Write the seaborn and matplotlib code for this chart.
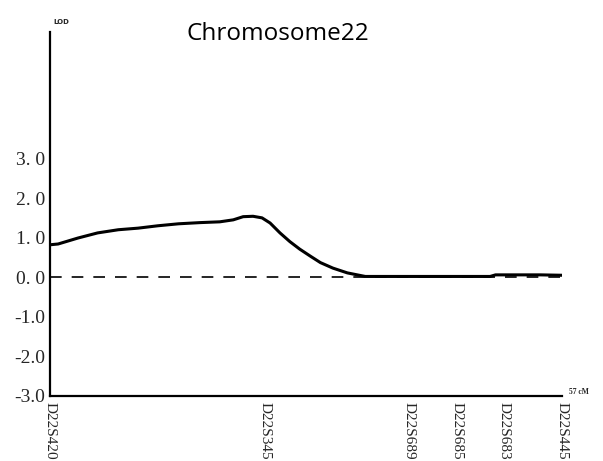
import matplotlib
matplotlib.use("Agg")
import matplotlib.pyplot as plt
import seaborn as sns
import pandas as pd

# LOD score along chromosome 22 (position in cM)
pos_cm = [0.0, 0.9, 3.1, 5.3, 7.6, 9.8, 12.0, 14.3, 16.7, 18.9, 20.4, 21.5,
          22.6, 23.6, 24.5, 25.6, 26.7, 27.8, 29.0, 30.1, 31.5, 33.1, 34.2,
          35.1, 49.0, 49.6, 54.6, 57.0]
lod = [0.82, 0.84, 0.99, 1.12, 1.20, 1.24, 1.30, 1.35, 1.38, 1.40, 1.45, 1.53,
       1.54, 1.50, 1.37, 1.12, 0.90, 0.71, 0.53, 0.37, 0.23, 0.11, 0.06,
       0.02, 0.02, 0.06, 0.06, 0.05]

# Marker positions along the map
marker_names = ["D22S420", "D22S345", "D22S689", "D22S685", "D22S683", "D22S445"]
marker_cm = [0.0, 23.9, 40.0, 45.3, 50.6, 57.0]

ytick_vals = [3.0, 2.0, 1.0, 0.0, -1.0, -2.0, -3.0]
ytick_labels = ["3. 0", "2. 0", "1. 0", "0. 0", "-1.0", "-2.0", "-3.0"]

map_length = 57.0

sns.set_style("white")
plt.rcParams["font.family"] = ["Liberation Serif", "DejaVu Serif"]

fig = plt.figure(figsize=(6.03, 4.61), dpi=100)
ax = fig.add_axes([0.083, 0.141, 0.849, 0.790])

df = pd.DataFrame({"cM": pos_cm, "LOD": lod})
sns.lineplot(data=df, x="cM", y="LOD", ax=ax, color="black", linewidth=2.2)
ax.axhline(0.0, color="black", linewidth=1.2, dashes=(7, 6), zorder=1)

ax.set_xlim(0, map_length)
ax.set_ylim(-3.0, 6.2)

ax.set_yticks(ytick_vals)
ax.set_yticklabels(ytick_labels, fontsize=14)
ax.set_xticks(marker_cm)
ax.set_xticklabels(marker_names, rotation=-90, fontsize=11)
ax.tick_params(axis="both", direction="inout", length=5, width=1.0,
               color="black", pad=1)
ax.tick_params(axis="x", pad=2)

ax.set_xlabel("")
ax.set_ylabel("")

for side in ["top", "right"]:
    ax.spines[side].set_visible(False)
for side in ["left", "bottom"]:
    ax.spines[side].set_color("black")
    ax.spines[side].set_linewidth(1.6)

ax.text(0.006, 1.02, "LOD", transform=ax.transAxes, fontsize=5,
        fontweight="bold", family="DejaVu Sans", ha="left", va="bottom")
ax.text(1.013, 0.0, "57 cM", transform=ax.transAxes, fontsize=5.5,
        fontweight="bold", ha="left", va="bottom")
ax.text(0.445, 0.995, "Chromosome22", transform=ax.transAxes, fontsize=17.5,
        family="Open Sans", color="black", ha="center", va="center")

fig.savefig("out.png", dpi=100)
